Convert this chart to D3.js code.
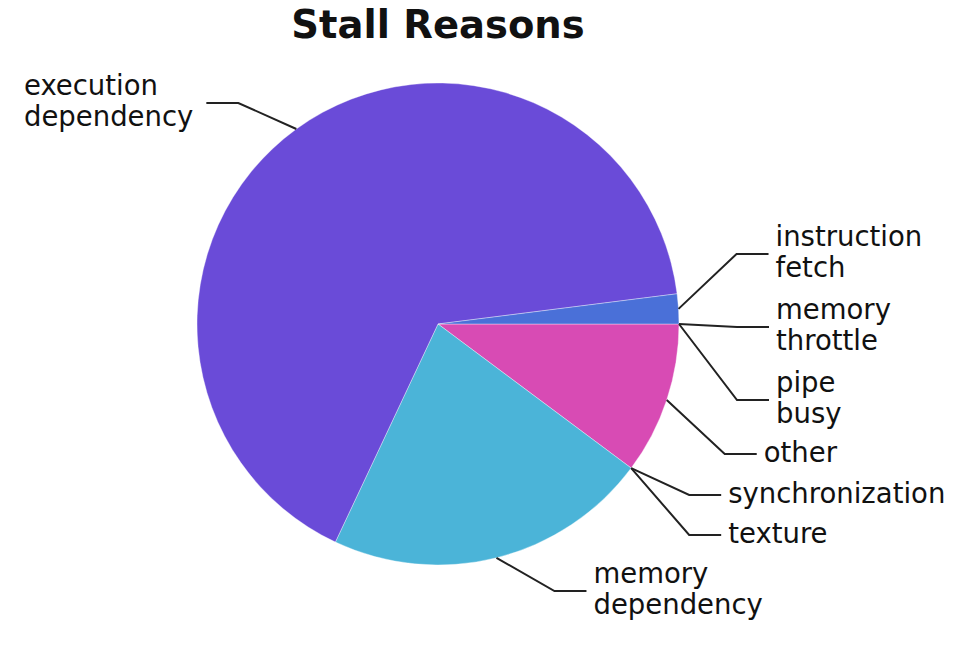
<!DOCTYPE html>
<html>
<head>
<meta charset="utf-8">
<script src="https://cdn.jsdelivr.net/npm/d3@7"></script>
<style>
  html, body { margin: 0; padding: 0; background: #fff; }
  svg text { font-family: "DejaVu Sans", Verdana, sans-serif; fill: #111; }
</style>
</head>
<body>
<svg id="chart" width="973" height="647"></svg>
<script>
// ─── data (clockwise from 3 o'clock) ─────────────────────
const categories = ['other', 'synchronization', 'texture', 'memory dependency',
                    'execution dependency', 'instruction fetch', 'memory throttle', 'pipe busy'];
const values = [10.2, 0, 0, 21.8, 66.0, 2.0, 0, 0];
const labelLines = [['other'], ['synchronization'], ['texture'], ['memory', 'dependency'],
                    ['execution', 'dependency'], ['instruction', 'fetch'], ['memory', 'throttle'], ['pipe', 'busy']];
const colors = ['#d84bb4', '#4a8fd8', '#4ad8b4', '#4bb4d8', '#6a4bd8', '#4a70d8', '#8f4bd8', '#b44bd8'];

// ─── layout ──────────────────────────────────────────────
const W = 973, H = 647;
const cx = 438, cy = 324, R = 241;
const elbowDx = 58, legLen = 32, textGap = 7;
const lineH = 31, xHalf = 7.5;
// vertical slot (centre y) of each label after spreading
const labelY = [454, 495, 535, 591, 103, 254, 327, 400];

const svg = d3.select('#chart');

svg.append('text')
  .attr('x', cx).attr('y', 38)
  .attr('text-anchor', 'middle')
  .style('font-size', '38.5px')
  .style('font-weight', 'bold')
  .text('Stall Reasons');

const pie = d3.pie().sort(null).value(d => d)
  .startAngle(Math.PI / 2).endAngle(Math.PI / 2 + 2 * Math.PI);
const arcs = pie(values);
const arc = d3.arc().innerRadius(0).outerRadius(R);

const g = svg.append('g').attr('transform', `translate(${cx},${cy})`);

g.selectAll('path.slice')
  .data(arcs.filter(d => d.value > 0))
  .enter().append('path')
  .attr('class', 'slice')
  .attr('d', arc)
  .attr('fill', d => colors[d.index])
  .attr('stroke', '#fff')
  .attr('stroke-width', 0.6)
  .attr('stroke-opacity', 0.6);

// ─── labels with elbow connectors ────────────────────────
const lab = svg.append('g');
arcs.forEach((d, i) => {
  const mid = (d.startAngle + d.endAngle) / 2;
  const ax = cx + R * Math.sin(mid);
  const ay = cy - R * Math.cos(mid);
  const right = Math.sin(mid) >= 0;
  const dir = right ? 1 : -1;
  const ex = ax + dir * elbowDx;
  const ey = labelY[i];
  const hx = ex + dir * legLen;

  lab.append('polyline')
    .attr('points', `${ax},${ay} ${ex},${ey} ${hx},${ey}`)
    .attr('fill', 'none')
    .attr('stroke', '#222')
    .attr('stroke-width', 2);

  const lines = labelLines[i];
  const t = lab.append('text').style('font-size', '27.5px');
  const spans = lines.map((s, k) => t.append('tspan')
    .attr('y', ey + (k - (lines.length - 1) / 2) * lineH + xHalf)
    .text(s));
  // block is left-aligned; on the left side its right edge meets the connector
  let x0 = hx + textGap;
  if (!right) {
    const wMax = d3.max(spans, s => s.node().getComputedTextLength());
    x0 = hx - textGap - 6 - wMax;
  }
  spans.forEach(s => s.attr('x', x0));
});
</script>
</body>
</html>
